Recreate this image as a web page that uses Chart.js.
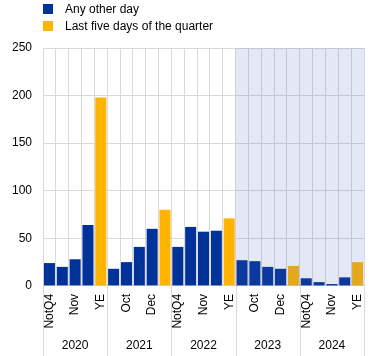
<!DOCTYPE html>
<html>
<head>
<meta charset="utf-8">
<script src="https://cdn.jsdelivr.net/npm/chart.js@4"></script>
<style>
  html, body { margin: 0; padding: 0; background: #fff; }
  #wrap { position: relative; width: 372px; height: 356px; }
  #legend { position: absolute; left: 43px; top: 0; font-family: "Liberation Sans", Arial, sans-serif; font-size: 12px; color: #000; }
  .li { position: absolute; left: 0; white-space: nowrap; height: 14px; line-height: 14px; }
  .sw { position: absolute; left: 0; top: 2px; width: 10px; height: 10px; }
  .tx { position: absolute; left: 22px; top: 0; }
</style>
</head>
<body>
<div id="wrap">
  <canvas id="c" width="372" height="356"></canvas>
  <div id="legend"></div>
</div>
<script>
const years = ['2020', '2021', '2022', '2023', '2024'];
const periods = ['NotQ4', 'Oct', 'Nov', 'Dec', 'YE'];
const seriesNames = ['Any other day', 'Last five days of the quarter'];
const seriesColors = ['#003299', '#FFB400'];
// values per year: NotQ4, Oct, Nov, Dec, YE
const values2020 = [24, 20, 28, 64, 198];
const values2021 = [18, 25, 41, 60, 80];
const values2022 = [41, 62, 57, 58, 71];
const values2023 = [27, 26, 20, 18, 21];
const values2024 = [8, 4, 2, 9, 25];
const yTicks = [0, 50, 100, 150, 200, 250];
const shadedFromYear = '2023';

const allValues = [values2020, values2021, values2022, values2023, values2024];
const labels = [];
const otherDay = [];
const lastFive = [];
years.forEach((y, yi) => {
  periods.forEach((p, pi) => {
    labels.push(p);
    const v = allValues[yi][pi];
    if (p === 'YE') { otherDay.push(null); lastFive.push(v); }
    else { otherDay.push(v); lastFive.push(null); }
  });
});

// HTML legend
const leg = document.getElementById('legend');
seriesNames.forEach((n, i) => {
  const d = document.createElement('div');
  d.className = 'li';
  d.style.top = (2 + i * 17) + 'px';
  d.innerHTML = '<span class="sw" style="background:' + seriesColors[i] + '"></span><span class="tx"></span>';
  d.querySelector('.tx').textContent = n;
  leg.appendChild(d);
});

const FONT = "'Liberation Sans', Arial, sans-serif";

function boundaryPx(xs, idx) {
  const n = xs.ticks.length;
  if (idx <= 0) return xs.left;
  if (idx >= n) return xs.right;
  return (xs.getPixelForValue(idx - 1) + xs.getPixelForValue(idx)) / 2;
}

const decorPlugin = {
  id: 'decor',
  afterDatasetsDraw(chart) {
    const ctx = chart.ctx, xs = chart.scales.x, ca = chart.chartArea;
    const start = years.indexOf(shadedFromYear) * periods.length;
    const x0 = boundaryPx(xs, start);
    ctx.save();
    ctx.fillStyle = 'rgba(71,99,180,0.15)';
    ctx.fillRect(x0, ca.top, ca.right - x0, ca.bottom - ca.top);
    ctx.restore();
  },
  afterDraw(chart) {
    const ctx = chart.ctx, xs = chart.scales.x, ca = chart.chartArea;
    ctx.save();
    ctx.strokeStyle = '#d9d9d9';
    ctx.lineWidth = 1;
    for (let i = 0; i <= years.length; i++) {
      const x = Math.round(boundaryPx(xs, i * periods.length)) + 0.5;
      ctx.beginPath();
      ctx.moveTo(x, ca.bottom);
      ctx.lineTo(x, chart.height);
      ctx.stroke();
    }
    ctx.restore();
  }
};

new Chart(document.getElementById('c'), {
  type: 'bar',
  data: {
    labels: labels,
    datasets: [
      { label: seriesNames[0], data: otherDay, backgroundColor: seriesColors[0], barPercentage: 0.86, categoryPercentage: 1 },
      { label: seriesNames[1], data: lastFive, backgroundColor: seriesColors[1], barPercentage: 0.86, categoryPercentage: 1 }
    ]
  },
  options: {
    responsive: false,
    animation: false,
    devicePixelRatio: 1,
    layout: { padding: { left: 1, right: 8, top: 48, bottom: 1 } },
    plugins: { legend: { display: false }, tooltip: { enabled: false } },
    scales: {
      x: {
        stacked: true,
        offset: true,
        afterFit: (s) => { s.paddingLeft = 0; s.paddingRight = 0; },
        grid: { color: '#d9d9d9', drawTicks: false, offset: true },
        border: { color: '#d9d9d9' },
        ticks: {
          autoSkip: false, maxRotation: 90, minRotation: 90, padding: 8,
          color: '#000', font: { family: FONT, size: 12 },
          callback: (v, i) => (i % 2 === 0 ? labels[i] : '')
        }
      },
      x2: {
        type: 'category',
        labels: years,
        position: 'bottom',
        offset: true,
        afterFit: (s) => { s.paddingLeft = 0; s.paddingRight = 0; },
        grid: { display: false, drawTicks: false },
        border: { display: false },
        ticks: { color: '#000', font: { family: FONT, size: 12 }, padding: 2, maxRotation: 0, autoSkip: false }
      },
      y: {
        stacked: true,
        min: 0, max: 250,
        afterBuildTicks: (s) => { s.ticks = yTicks.map(v => ({ value: v })); },
        grid: { color: '#d9d9d9', drawTicks: false },
        border: { color: '#d9d9d9' },
        ticks: { padding: 11, color: '#000', font: { family: FONT, size: 12 } }
      }
    }
  },
  plugins: [decorPlugin]
});
</script>
</body>
</html>
